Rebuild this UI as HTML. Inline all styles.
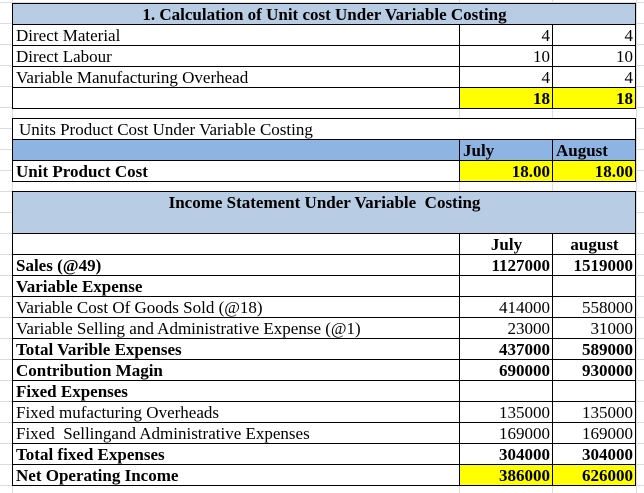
<!DOCTYPE html>
<html><head><meta charset="utf-8"><style>
body{margin:0;width:644px;height:493px;overflow:hidden;background:#fff;font-family:"Liberation Serif",serif;font-size:17px;color:#000;position:relative}
.grid{position:absolute;left:0;top:0;width:644px;height:493px;background-image:linear-gradient(#dadcdd 1px,transparent 1px);background-size:100% 21px;background-position:0 2px}
.vg{position:absolute;top:0;width:1px;height:493px;background:#dadcdd}
.c{position:absolute;box-sizing:border-box;border:1px solid #000;background:#fff;white-space:nowrap;line-height:21px;padding:0 2px 0 3px;overflow:hidden}
.r{text-align:right}.b{font-weight:bold}.y{background:#ffff00}.lb{background:#b8cce4}.db{background:#8db4e2}
</style></head><body>
<div class="grid"></div>
<div class="vg" style="left:12px"></div>
<div class="vg" style="left:459px"></div>
<div class="vg" style="left:552px"></div>
<div class="vg" style="left:636px"></div>
<div id="root"></div>
<script>
const root=document.getElementById('root');
function cell(x,y,w,h,text,cls,name){
  const d=document.createElement('div');
  d.className='c '+(cls||'');
  d.style.left=x+'px';d.style.top=y+'px';d.style.width=w+'px';d.style.height=h+'px';
  d.textContent=text;
  
  
  root.appendChild(d);return d;
}
const X0=12,X1=459,X2=552,X3=636;
function row(y,h,label,v1,v2,cls,vcls,name){
  cell(X0,y,X1-X0+1,h,label,cls,name+'-label');
  cell(X1,y,X2-X1+1,h,v1,'r '+(vcls||cls||''),name+'-july');
  cell(X2,y,X3-X2,h,v2,'r '+(vcls||cls||''),name+'-august');
}
const t=cell(X0,3,X3-X0,22,'1. Calculation of Unit cost Under Variable Costing','b lb','section1-title');
t.style.textAlign='center';
const s1labels=['Direct Material','Direct Labour','Variable Manufacturing Overhead',''];
const s1july=['4','10','4','18'];
const s1aug=['4','10','4','18'];
const s1y=[24,45,66,87];
for(let i=0;i<4;i++){row(s1y[i],22,s1labels[i],s1july[i],s1aug[i],'',i==3?'b y':'','cost-row-'+i);}
cell(X0,118,X3-X0,22,'Units Product Cost Under Variable Costing','','section2-title').style.paddingLeft='6px';
cell(X0,139,X1-X0+1,22,'','db','unit-header-blank');
cell(X1,139,X2-X1+1,22,'July','b db','unit-header-july');
cell(X2,139,X3-X2,22,'August','b db','unit-header-august');
row(160,22,'Unit Product Cost','18.00','18.00','b','b y','unit-product-cost');
const t3=cell(X0,191,X3-X0,43,'Income Statement Under Variable  Costing','b lb','income-title');
t3.style.textAlign='center';t3.style.whiteSpace='pre';t3.style.lineHeight='22px';
cell(X0,233,X1-X0+1,22,'','','income-header-blank');
cell(X1,233,X2-X1+1,22,'July','b','income-header-july').style.textAlign='center';
cell(X2,233,X3-X2,22,'august','b','income-header-august').style.textAlign='center';
const isLabels=['Sales (@49)','Variable Expense','Variable Cost Of Goods Sold (@18)','Variable Selling and Administrative Expense (@1)','Total Varible Expenses','Contribution Magin','Fixed Expenses','Fixed mufacturing Overheads','Fixed  Sellingand Administrative Expenses','Total fixed Expenses','Net Operating Income'];
const isJuly=['1127000','','414000','23000','437000','690000','','135000','169000','304000','386000'];
const isAug=['1519000','','558000','31000','589000','930000','','135000','169000','304000','626000'];
const isBold=[1,1,0,0,1,1,1,0,0,1,1];
for(let i=0;i<isLabels.length;i++){
  const y=254+i*21;
  const lc=isBold[i]?'b':'';
  const lab=cell(X0,y,X1-X0+1,22,isLabels[i],lc,'income-row-'+i+'-label');lab.style.whiteSpace='pre';
  cell(X1,y,X2-X1+1,22,isJuly[i],'r '+lc+(i==10?' y':''),'income-row-'+i+'-july');
  cell(X2,y,X3-X2,22,isAug[i],'r '+lc+(i==10?' y':''),'income-row-'+i+'-august');
}
</script>
</body></html>
